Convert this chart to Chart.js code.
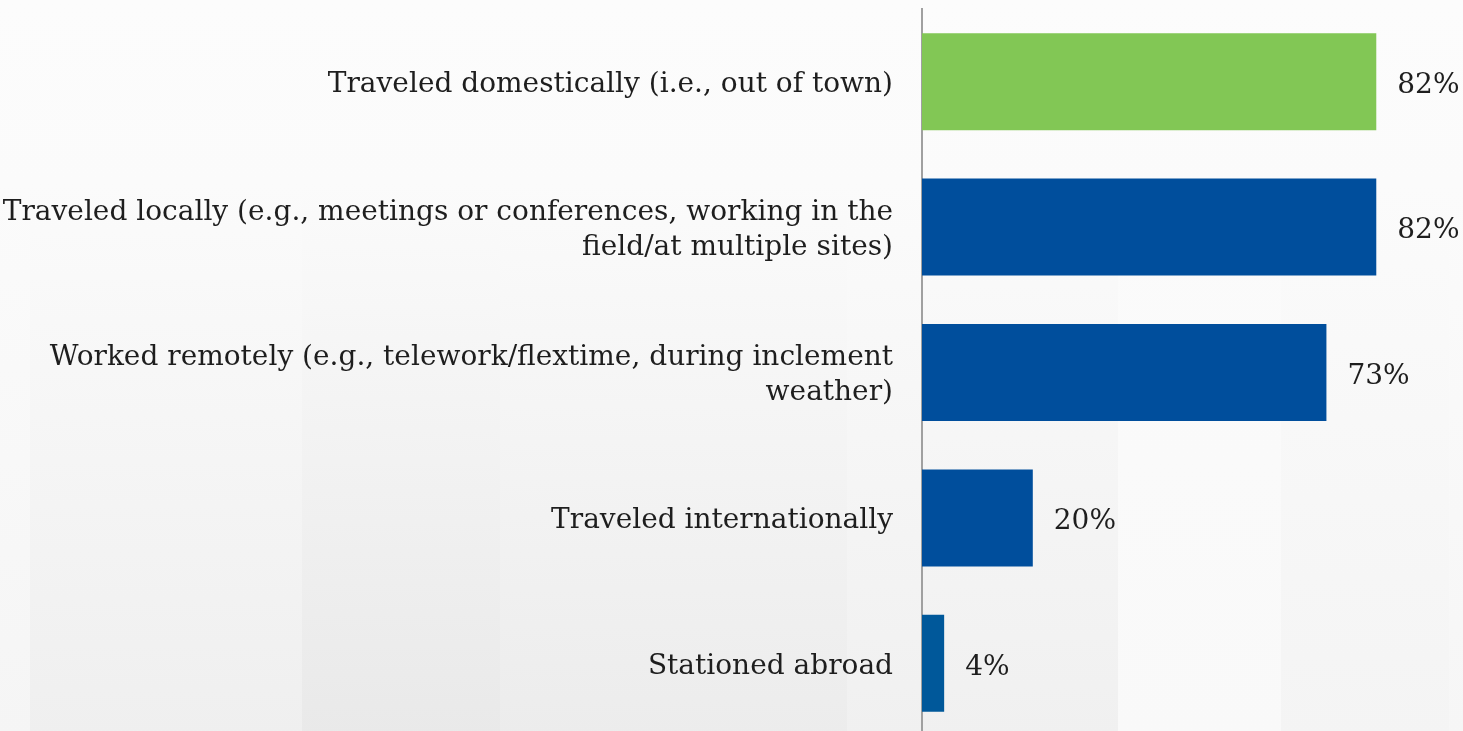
<!DOCTYPE html>
<html>
<head>
<meta charset="utf-8">
<script src="https://cdn.jsdelivr.net/npm/chart.js@4/dist/chart.umd.min.js"></script>
<style>
    html, body { margin: 0; padding: 0; overflow: hidden; background: #fcfcfc; }
    #wrap { position: relative; width: 1476px; height: 736px; }
</style>
</head>
<body>
<div id="wrap"><canvas id="grafico-viagens"></canvas></div>
<script>
/* DADOS */
const categorias = [
    "Traveled domestically (i.e., out of town)",
    ["Traveled locally (e.g., meetings or conferences, working in the", "field/at multiple sites)"],
    ["Worked remotely (e.g., telework/flextime, during inclement", "weather)"],
    "Traveled internationally",
    "Stationed abroad"
];
const percentuais = [82, 82, 73, 20, 4];
const coresBarras = ["#82c755", "#004e9c", "#004e9c", "#004e9c", "#00589a"];
/* FIM DADOS */

const fonteSerif = "'DejaVu Serif', 'Liberation Serif', serif";

// faixas verticais do fundo: [inicio, fim, cor embaixo]
const faixasFundo = [
    [0, 30, "#f5f5f5"],
    [30, 302, "#efefef"],
    [302, 500, "#e9e9e9"],
    [500, 847, "#ececec"],
    [847, 1118, "#f0f0f0"],
    [1118, 1281, "#f9f9f9"],
    [1281, 1449, "#f4f4f4"],
    [1449, 1476, "#f6f6f6"]
];

const fundo = {
    id: 'fundo',
    beforeDraw(chart) {
        const ctx = chart.ctx;
        const h = chart.height;
        ctx.save();
        faixasFundo.forEach(([x0, x1, cor]) => {
            const g = ctx.createLinearGradient(0, 0, 0, h);
            g.addColorStop(0, "#fcfcfc");
            g.addColorStop(0.25, "#fbfbfb");
            g.addColorStop(1, cor);
            ctx.fillStyle = g;
            ctx.fillRect(x0, 0, x1 - x0, h);
        });
        ctx.restore();
    }
};

/* rótulos de porcentagem no fim de cada barra */
const rotulos = {
    id: 'rotulos',
    afterDatasetsDraw(chart) {
        const ctx = chart.ctx;
        const meta = chart.getDatasetMeta(0);
        ctx.save();
        ctx.font = "28px " + fonteSerif;
        ctx.fillStyle = "#1e1e1e";
        ctx.textAlign = "left";
        ctx.textBaseline = "middle";
        meta.data.forEach((bar, i) => {
            ctx.fillText(percentuais[i] + "%", bar.x + 21, bar.y + 4);
        });
        ctx.restore();
    }
};

new Chart(document.getElementById("grafico-viagens"), {
    type: 'bar',
    data: {
        labels: categorias,
        datasets: [{
            data: percentuais,
            backgroundColor: coresBarras,
            borderWidth: 0,
            barPercentage: 0.667,
            categoryPercentage: 1
        }]
    },
    options: {
        indexAxis: 'y',
        responsive: true,
        maintainAspectRatio: false,
        animation: false,
        layout: { padding: { top: 9, right: 0, bottom: 0, left: 0 } },
        plugins: {
            legend: { display: false },
            tooltip: { enabled: false }
        },
        scales: {
            x: {
                display: false,
                min: 0,
                max: 100
            },
            y: {
                afterFit(scale) {
                    scale.width = 922;
                    scale.paddingTop = 0;
                    scale.paddingBottom = 0;
                },
                grid: { display: false, drawTicks: false },
                border: { display: true, color: "#a0a0a0", width: 2 },
                ticks: {
                    color: "#1e1e1e",
                    padding: 29,
                    labelOffset: 3,
                    font: { family: fonteSerif, size: 28, lineHeight: 1.26 }
                }
            }
        }
    },
    plugins: [fundo, rotulos]
});
</script>
</body>
</html>
